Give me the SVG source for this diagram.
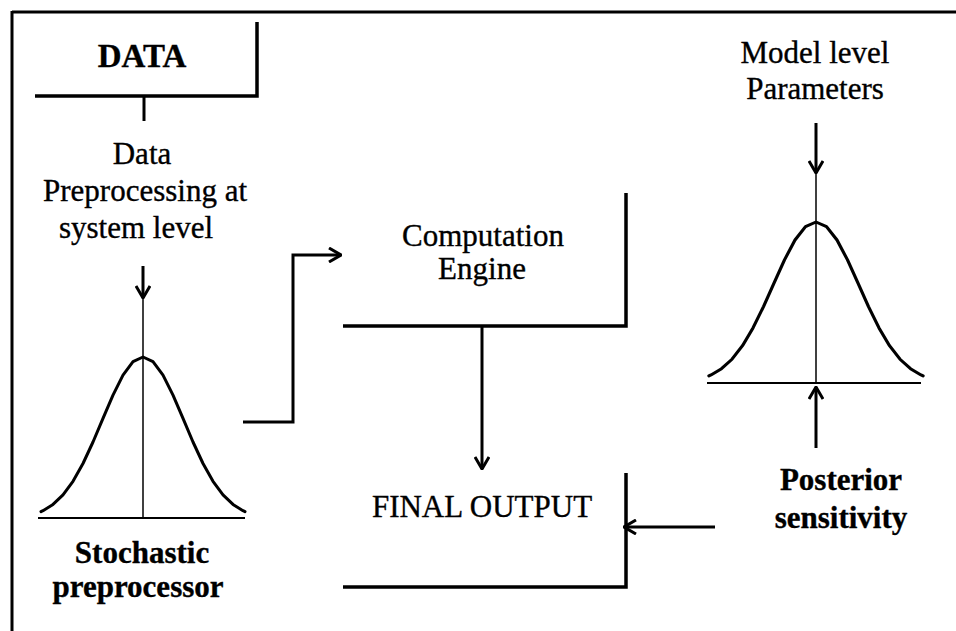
<svg xmlns="http://www.w3.org/2000/svg" width="956" height="631" viewBox="0 0 956 631">
<style>
.t{font-family:"Liberation Serif","Times New Roman",serif;font-size:31px;fill:#000;stroke:#000;stroke-width:0.35;text-anchor:middle}
.b{font-weight:bold}
.br{fill:none;stroke:#000;stroke-width:3.5}
.cn{fill:none;stroke:#000;stroke-width:3}
.thin{fill:none;stroke:#000;stroke-width:1.5}
.base{fill:none;stroke:#000;stroke-width:2.2}
.bell{fill:none;stroke:#000;stroke-width:3;stroke-linejoin:round;stroke-linecap:round}
</style>
<defs>
<marker id="ah" viewBox="0 0 14 16" refX="13" refY="8" markerWidth="14" markerHeight="16" markerUnits="userSpaceOnUse" orient="auto">
<path d="M1,1 L13,8 L1,15" fill="none" stroke="#000" stroke-width="3"/>
</marker>
<polyline id="bellc" points="-102,154.7 -100,153.7 -90,147.4 -80,137.9 -70,124.3 -60,106.5 -50,85 -40,61.4 -30,38.1 -20,18.1 -10,4.7 0,0 10,4.7 20,18.1 30,38.1 40,61.4 50,85 60,106.5 70,124.3 80,137.9 90,147.4 100,153.7 102,154.7"/>
</defs>
<rect width="956" height="631" fill="#fff"/>
<g id="frame">
<line x1="12" y1="12" x2="956" y2="12" stroke="#000" stroke-width="3"/>
<line x1="12" y1="11" x2="12" y2="631" stroke="#000" stroke-width="3"/>
</g>
<g id="data">
<text class="t b" x="142" y="67" style="font-size:33px">DATA</text>
<polyline class="br" points="35,96 257,96 257,22"/>
</g>
<g id="preprocessing">
<text class="t" x="142" y="164">Data</text>
<text class="t" x="145" y="201">Preprocessing at</text>
<text class="t" x="136" y="238">system level</text>
</g>
<g id="stochastic">
<line class="thin" x1="143" y1="298" x2="143" y2="518"/>
<line class="base" x1="38" y1="518" x2="245" y2="518"/>
<use href="#bellc" class="bell" transform="translate(143,357)"/>
<text class="t b" x="142" y="563">Stochastic</text>
<text class="t b" x="138" y="597">preprocessor</text>
</g>
<g id="engine">
<text class="t" x="483" y="246">Computation</text>
<text class="t" x="482" y="279">Engine</text>
<polyline class="br" points="343,326 626,326 626,193"/>
</g>
<g id="output">
<text class="t" x="482" y="517">FINAL OUTPUT</text>
<polyline class="br" points="343,587 626,587 626,473"/>
</g>
<g id="model">
<text class="t" x="815" y="63">Model level</text>
<text class="t" x="815" y="99">Parameters</text>
</g>
<g id="posteriorbell">
<line class="thin" x1="816" y1="173" x2="816" y2="383"/>
<line class="base" x1="707" y1="383" x2="921" y2="383"/>
<use href="#bellc" class="bell" transform="translate(816,222) scale(1.05,0.995)"/>
</g>
<g id="posterior">
<text class="t b" x="841" y="490">Posterior</text>
<text class="t b" x="841" y="528">sensitivity</text>
</g>
<g id="connectors">
<line class="cn" x1="144" y1="96" x2="144" y2="121"/>
<line class="cn" x1="143" y1="266" x2="143" y2="298" marker-end="url(#ah)"/>
<polyline class="cn" points="243,422 293,422 293,255 341,255" marker-end="url(#ah)"/>
<line class="cn" x1="482" y1="326" x2="482" y2="469" marker-end="url(#ah)"/>
<line class="cn" x1="816" y1="123" x2="816" y2="173" marker-end="url(#ah)"/>
<line class="cn" x1="816" y1="448" x2="816" y2="387" marker-end="url(#ah)"/>
<line class="cn" x1="715" y1="527" x2="624" y2="527" marker-end="url(#ah)"/>
</g>
</svg>
